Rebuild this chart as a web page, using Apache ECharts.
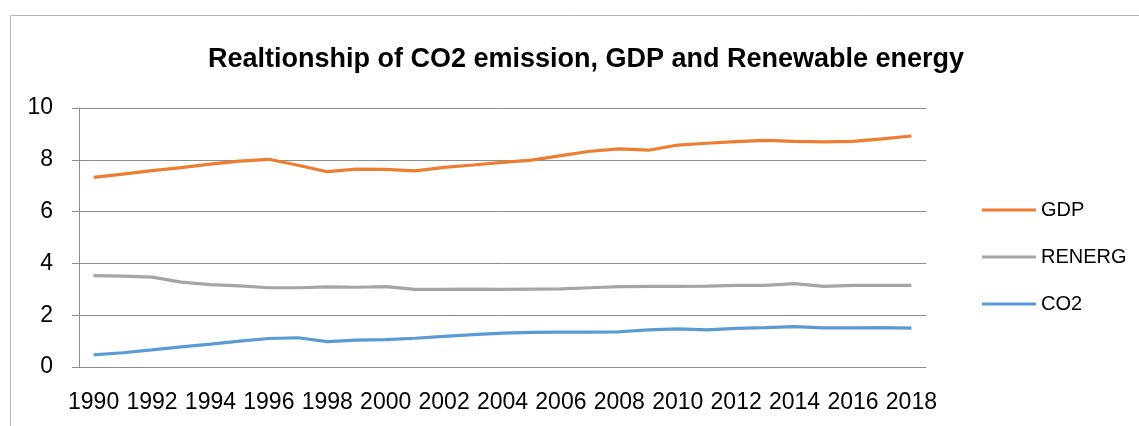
<!DOCTYPE html>
<html>
<head>
<meta charset="utf-8">
<script src="https://cdn.jsdelivr.net/npm/echarts@6/dist/echarts.min.js"></script>
<style>
  html, body { margin: 0; padding: 0; background: #fff; }
  #chart { width: 1139px; height: 426px; }
</style>
</head>
<body>
<div id="chart"></div>
<script>
  const years = ['1990', '1991', '1992', '1993', '1994', '1995', '1996', '1997', '1998', '1999',
    '2000', '2001', '2002', '2003', '2004', '2005', '2006', '2007', '2008', '2009',
    '2010', '2011', '2012', '2013', '2014', '2015', '2016', '2017', '2018']
  const gdp = [7.32, 7.45, 7.58, 7.7, 7.83, 7.95, 8.02, 7.79, 7.54, 7.64,
    7.63, 7.57, 7.71, 7.8, 7.9, 7.99, 8.16, 8.33, 8.42, 8.37,
    8.57, 8.64, 8.7, 8.75, 8.71, 8.69, 8.71, 8.81, 8.92]
  const renerg = [3.53, 3.51, 3.47, 3.28, 3.18, 3.13, 3.06, 3.06, 3.09, 3.08,
    3.1, 3.0, 3.0, 3.01, 3.0, 3.01, 3.02, 3.06, 3.1, 3.11,
    3.11, 3.12, 3.15, 3.15, 3.22, 3.11, 3.15, 3.15, 3.15]
  const co2 = [0.47, 0.55, 0.66, 0.78, 0.88, 1.0, 1.1, 1.13, 0.98, 1.04,
    1.06, 1.11, 1.18, 1.25, 1.31, 1.34, 1.35, 1.35, 1.36, 1.43,
    1.47, 1.43, 1.49, 1.52, 1.56, 1.51, 1.51, 1.52, 1.5]

  const font = 'Liberation Sans'
  const gridColor = '#8c8c8c'

  const chart = echarts.init(document.getElementById('chart'))
  chart.setOption({
    animation: false,
    backgroundColor: '#fff',
    graphic: [
      {
        type: 'rect',
        shape: { x: 10.5, y: 15.5, width: 1140, height: 430 },
        style: { fill: 'none', stroke: '#b4b4b4', lineWidth: 1 },
        silent: true
      }
    ],
    title: {
      text: 'Realtionship of CO2 emission, GDP and Renewable energy',
      left: 581,
      textAlign: 'center',
      top: 41,
      textStyle: { fontFamily: font, fontWeight: 'bold', fontSize: 27, color: '#000' }
    },
    legend: {
      orient: 'vertical',
      left: 977,
      top: 195,
      icon: 'rect',
      itemWidth: 54,
      itemHeight: 3,
      itemGap: 27,
      textStyle: { fontFamily: font, fontSize: 20, color: '#000' },
      data: ['GDP', 'RENERG', 'CO2']
    },
    grid: { left: 79, right: 213, top: 108, bottom: 59 },
    xAxis: {
      type: 'category',
      data: years,
      boundaryGap: true,
      axisLine: { lineStyle: { color: gridColor, width: 1 } },
      axisTick: { interval: 0, length: 8, lineStyle: { color: gridColor } },
      axisLabel: { interval: 1, margin: 24, fontFamily: font, fontSize: 23, color: '#000' }
    },
    yAxis: {
      type: 'value',
      min: 0,
      max: 10,
      interval: 2,
      axisLine: { show: true, lineStyle: { color: gridColor, width: 1 } },
      axisTick: { show: true, length: 7, lineStyle: { color: gridColor } },
      splitLine: { lineStyle: { color: gridColor, width: 1 } },
      axisLabel: { margin: 26, fontFamily: font, fontSize: 23, color: '#000' }
    },
    series: [
      {
        name: 'GDP', type: 'line', data: gdp, symbol: 'none',
        lineStyle: { width: 3.2, color: '#ED7D31' }, itemStyle: { color: '#ED7D31' }
      },
      {
        name: 'RENERG', type: 'line', data: renerg, symbol: 'none',
        lineStyle: { width: 3.2, color: '#A5A5A5' }, itemStyle: { color: '#A5A5A5' }
      },
      {
        name: 'CO2', type: 'line', data: co2, symbol: 'none',
        lineStyle: { width: 3.2, color: '#5B9BD5' }, itemStyle: { color: '#5B9BD5' }
      }
    ]
  })
</script>
</body>
</html>
